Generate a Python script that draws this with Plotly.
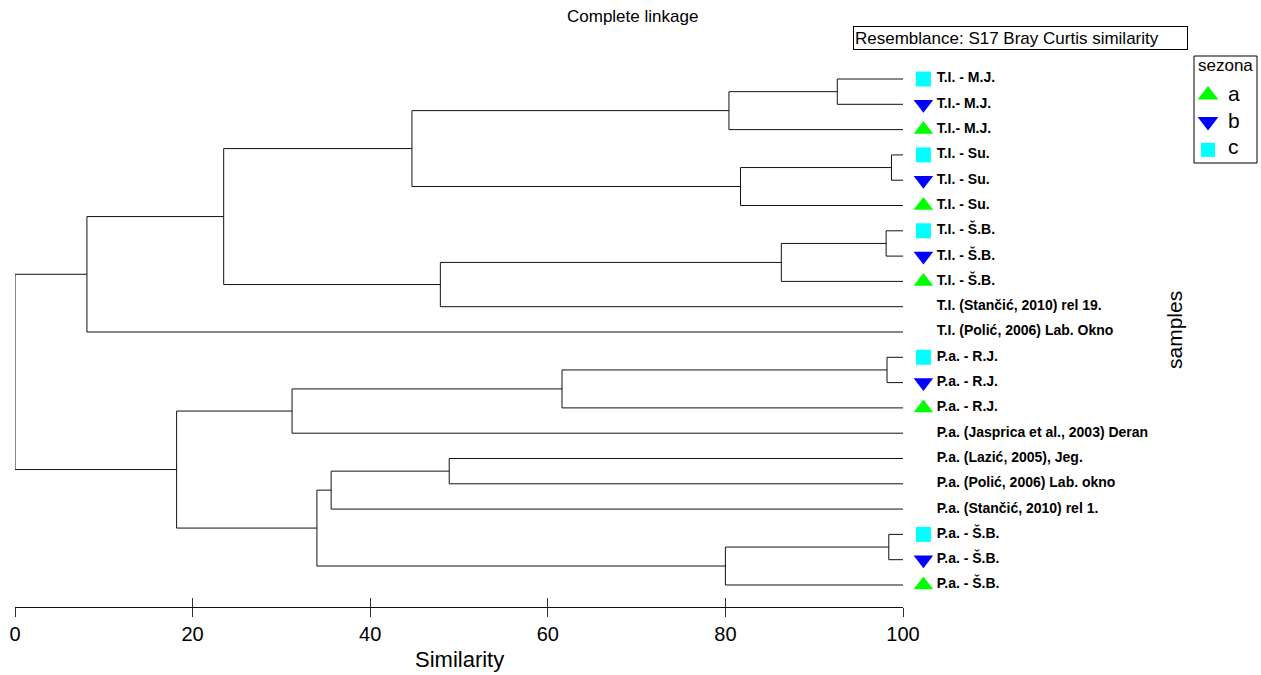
import plotly.graph_objects as go

# ---------------- data ----------------
leaf_labels = [
    "T.I. - M.J.", "T.I.- M.J.", "T.I.- M.J.",
    "T.I. - Su.", "T.I. - Su.", "T.I. - Su.",
    "T.I. - Š.B.", "T.I. - Š.B.", "T.I. - Š.B.",
    "T.I. (Stančić, 2010) rel 19.", "T.I. (Polić, 2006) Lab. Okno",
    "P.a. - R.J.", "P.a. - R.J.", "P.a. - R.J.",
    "P.a. (Jasprica et al., 2003) Deran", "P.a. (Lazić, 2005), Jeg.",
    "P.a. (Polić, 2006) Lab. okno", "P.a. (Stančić, 2010) rel 1.",
    "P.a. - Š.B.", "P.a. - Š.B.", "P.a. - Š.B.",
]
leaf_season = ["c", "b", "a", "c", "b", "a", "c", "b", "a", "", "",
               "c", "b", "a", "", "", "", "", "c", "b", "a"]

# linkage: cluster ids 0..20 are leaves, each merge creates id 21, 22, ...
merge_left = [0, 21, 3, 23, 22, 6, 26, 27, 25, 29, 11, 31, 32, 15, 34, 18, 36, 35, 33, 30]
merge_right = [1, 2, 4, 5, 24, 7, 8, 9, 28, 10, 12, 13, 14, 16, 17, 19, 20, 37, 38, 39]
merge_similarity = [92.6, 80.4, 98.7, 81.7, 44.7, 98.1, 86.3, 47.9, 23.5, 8.1,
                    98.2, 61.6, 31.2, 48.9, 35.6, 98.4, 80.0, 34.0, 18.2, 0.0]

seasons = ["a", "b", "c"]
season_symbols = ["triangle-up", "triangle-down", "square"]
season_colors = ["#00FF00", "#0000FF", "#00FFFF"]
season_sizes = [17, 17, 15]

x_ticks = [0, 20, 40, 60, 80, 100]

FONT = "Liberation Sans, Arial, sans-serif"
W, H = 1261, 675

# ---------------- dendrogram geometry ----------------
n = len(leaf_labels)
node_x = [100.0] * n
node_y = [i + 1 for i in range(n)]
lx, ly = [], []
for l, r, s in zip(merge_left, merge_right, merge_similarity):
    lx += [node_x[l], s, s, node_x[r], None]
    ly += [node_y[l], node_y[l], node_y[r], node_y[r], None]
    node_x.append(s)
    node_y.append((node_y[l] + node_y[r]) / 2)

fig = go.Figure()
fig.add_trace(go.Scatter(x=lx, y=ly, mode="lines",
                         line=dict(color="#111111", width=1),
                         hoverinfo="skip", showlegend=False))

# leaf labels (on a wider companion axis with the same scale)
fig.add_trace(go.Scatter(x=[103.8] * n, y=node_y[:n], mode="text", xaxis="x3", yaxis="y",
                         text=leaf_labels, textposition="middle right",
                         textfont=dict(family=FONT, size=14, color="#000000", weight="bold"),
                         cliponaxis=False, hoverinfo="skip", showlegend=False))

# leaf markers by season
for s, sym, col, sz in zip(seasons, season_symbols, season_colors, season_sizes):
    ys = [node_y[i] for i in range(n) if leaf_season[i] == s]
    fig.add_trace(go.Scatter(x=[102.3] * len(ys), y=ys, mode="markers", xaxis="x3", yaxis="y",
                             marker=dict(symbol=sym, color=col, size=sz, opacity=1,
                                         line=dict(width=0)),
                             cliponaxis=False, hoverinfo="skip", showlegend=False, name=s))

# manual legend ("sezona")
leg_rows = [1.63, 2.68, 3.80]
fig.add_trace(go.Scatter(x=[134.35] * 3, y=leg_rows, mode="markers", xaxis="x3", yaxis="y",
                         marker=dict(symbol=season_symbols, color=season_colors,
                                     size=[18, 18, 14], opacity=1, line=dict(width=0)),
                         cliponaxis=False, hoverinfo="skip", showlegend=False))
for s, py in zip(seasons, [93, 121, 147]):
    fig.add_annotation(x=1226 / W, y=1 - py / H, xref="paper", yref="paper", text=s,
                       showarrow=False, xanchor="left", yanchor="middle",
                       font=dict(family=FONT, size=21, color="#000000"))
fig.add_annotation(x=1196 / W, y=1 - 66 / H, xref="paper", yref="paper", text="sezona",
                   showarrow=False, xanchor="left", yanchor="middle",
                   font=dict(family=FONT, size=17, color="#000000"))
fig.add_shape(type="rect", xref="paper", yref="paper",
              x0=1194 / W, x1=1257 / W, y0=1 - 163 / H, y1=1 - 56 / H,
              line=dict(color="#000000", width=1), fillcolor="rgba(0,0,0,0)")

# overlay axis for inner half of ticks
fig.add_trace(go.Scatter(x=[0, 100], y=[None, None], xaxis="x2", mode="markers",
                         hoverinfo="skip", showlegend=False))

# texts
fig.add_annotation(x=632 / W, y=1 - 16.5 / H, xref="paper", yref="paper", text="Complete linkage",
                   showarrow=False, xanchor="center", yanchor="middle",
                   font=dict(family=FONT, size=17, color="#000000"))
fig.add_annotation(x=853 / W, y=1 - 38 / H, xref="paper", yref="paper",
                   text="Resemblance: S17 Bray Curtis similarity",
                   showarrow=False, xanchor="left", yanchor="middle", align="left",
                   width=331, height=20, borderpad=1, bordercolor="#000000", borderwidth=1,
                   font=dict(family=FONT, size=17, color="#000000"))
fig.add_annotation(x=459 / W, y=1 - 659 / H, xref="paper", yref="paper", text="Similarity",
                   showarrow=False, xanchor="center", yanchor="middle",
                   font=dict(family=FONT, size=22, color="#000000"))
fig.add_annotation(x=1174 / W, y=1 - 330 / H, xref="paper", yref="paper", text="samples",
                   showarrow=False, xanchor="center", yanchor="middle", textangle=-90,
                   font=dict(family=FONT, size=21, color="#000000"))

PX_PER_UNIT = (903 - 15) / 100.0
fig.update_layout(
    width=W, height=H,
    margin=dict(l=0, r=0, t=0, b=0, autoexpand=False),
    paper_bgcolor="white", plot_bgcolor="rgba(0,0,0,0)",
    showlegend=False,
    xaxis=dict(domain=[15 / W, 903 / W], range=[0, 100], anchor="y",
               tickvals=x_ticks, ticks="outside", ticklen=9,
               tickcolor="#333333", tickwidth=1, showline=True, linecolor="#111111",
               linewidth=1, showgrid=False, zeroline=False,
               tickfont=dict(family=FONT, size=20, color="#000000")),
    xaxis2=dict(range=[0, 100], overlaying="x", side="bottom", tickvals=x_ticks,
                ticks="inside", ticklen=9, tickcolor="#333333", tickwidth=1,
                showticklabels=False, showline=False, showgrid=False, zeroline=False),
    xaxis3=dict(domain=[15 / W, 1260 / W], range=[0, (1260 - 15) / PX_PER_UNIT], anchor="y",
                visible=False, showgrid=False, zeroline=False),
    yaxis=dict(domain=[1 - 607 / H, 1 - 52.7 / H], range=[21.87, -0.04], anchor="x",
               visible=False, showgrid=False, zeroline=False),
)

fig.write_html("out.html", config={"displayModeBar": False},
               post_script="document.body.style.margin='0';document.body.style.overflow='hidden';")
